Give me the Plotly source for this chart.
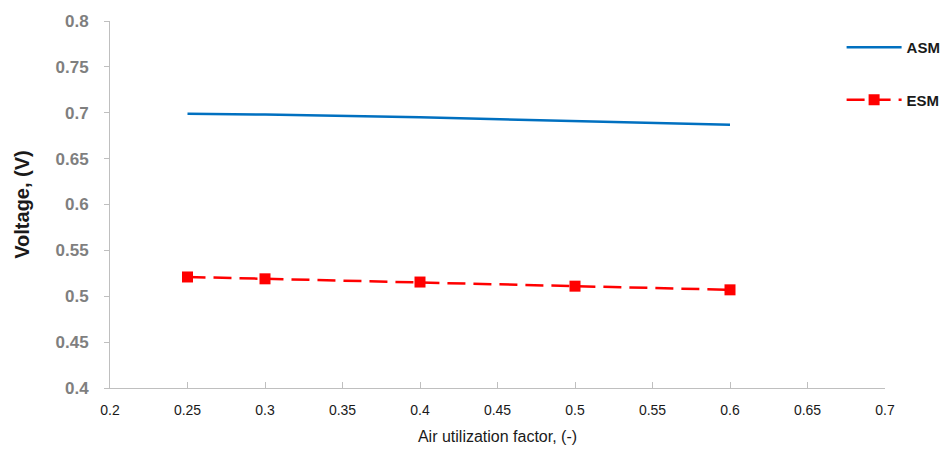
import plotly.graph_objects as go

x_vals = [0.25, 0.3, 0.4, 0.5, 0.6]
asm = [0.699, 0.698, 0.695, 0.691, 0.687]
esm = [0.521, 0.519, 0.5155, 0.511, 0.507]
x_ticks = [0.2, 0.25, 0.3, 0.35, 0.4, 0.45, 0.5, 0.55, 0.6, 0.65, 0.7]
y_ticks = [0.4, 0.45, 0.5, 0.55, 0.6, 0.65, 0.7, 0.75, 0.8]

fig = go.Figure()
fig.add_trace(go.Scatter(x=x_vals, y=asm, mode="lines", name="ASM",
                         legendgroup="a",
                         line=dict(color="#0070C0", width=2.5)))
fig.add_trace(go.Scatter(x=x_vals, y=esm, mode="lines+markers", name="ESM",
                         legendgroup="b",
                         line=dict(color="#FF0000", width=2.5, dash="18px,8px"),
                         marker=dict(symbol="square", size=11, color="#FF0000")))

fig.update_layout(
    width=943, height=451,
    margin=dict(l=102, r=66, t=13, b=71, autoexpand=False),
    plot_bgcolor="white", paper_bgcolor="white",
    showlegend=True,
    legend=dict(x=0.944, y=0.973, xanchor="left", yanchor="top",
                font=dict(family="Liberation Sans", size=15, color="#1a1a1a", weight="bold"),
                tracegroupgap=30, itemwidth=55, bgcolor="rgba(0,0,0,0)"),
    xaxis=dict(range=[0.2, 0.7], tickvals=x_ticks,
               ticktext=[str(v) for v in x_ticks],
               automargin=False,
               showgrid=False, zeroline=False, showline=True, linecolor="#BFBFBF", linewidth=1,
               ticks="inside", ticklen=6, tickcolor="#BFBFBF", ticklabelstandoff=9,
               tickfont=dict(family="Liberation Sans", size=14, color="#1a1a1a"),
               title=dict(text="Air utilization factor, (-)", standoff=14,
                          font=dict(family="Liberation Sans", size=16, color="#1a1a1a"))),
    yaxis=dict(range=[0.4, 0.8], tickvals=y_ticks,
               ticktext=[str(v) for v in y_ticks],
               automargin=False,
               showgrid=False, zeroline=False, showline=True, linecolor="#BFBFBF", linewidth=1,
               ticks="outside", ticklen=5, tickcolor="#BFBFBF", ticklabelstandoff=12,
               tickfont=dict(family="Liberation Sans", size=17, color="#7f7f7f", weight="bold"),
               title=dict(text="Voltage, (V)", standoff=20,
                          font=dict(family="Liberation Sans", size=20, color="#1a1a1a", weight="bold"))),
)

fig.write_html("out.html")
